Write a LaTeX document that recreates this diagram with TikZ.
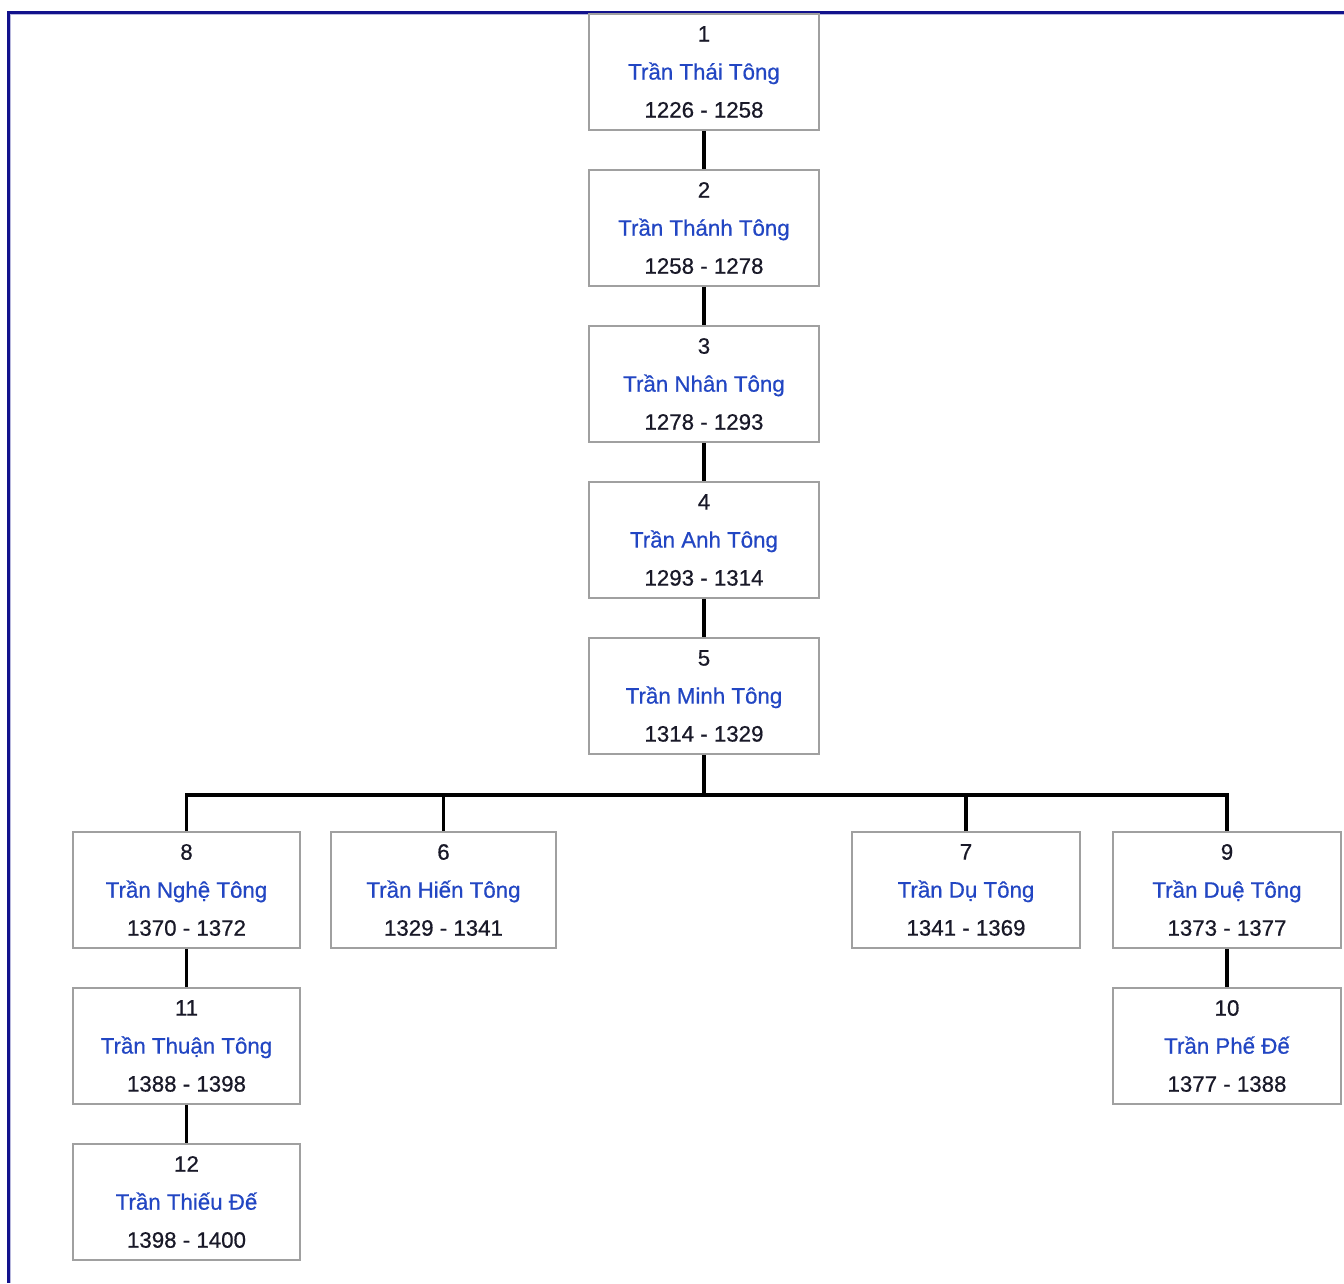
\documentclass[tikz,border=0pt]{standalone}
\usepackage{fontspec}
\setmainfont{Liberation Sans}[FakeBold=0.6]
\definecolor{nameblue}{RGB}{34,70,195}
\definecolor{boxgray}{RGB}{160,160,160}
\definecolor{framenavy}{RGB}{18,18,140}
\definecolor{numcol}{RGB}{25,25,40}
\begin{document}
\begin{tikzpicture}[x=1pt,y=-1pt,
  kbox/.style={draw=boxgray, line width=1.8pt, fill=white, minimum height=116pt,
    inner sep=0pt, align=center, text=numcol, font=\fontsize{22.3}{38}\selectfont},
  link/.style={line width=3.3pt, black}]
\useasboundingbox (0,0) rectangle (1344,1283);
\fill[white] (0,0) rectangle (1344,1283);
% frame
\draw[framenavy, line width=2.6pt] (1344,12.5) -- (8.5,12.5) -- (8.5,1283);
\draw[framenavy!30, line width=1pt] (1344,14.5) -- (10.5,14.5) -- (10.5,1283);
% boxes
\node[kbox, minimum width=230pt] (n1) at (704,72) {1\\\textcolor{nameblue}{Trần Thái Tông}\\1226 - 1258};
\node[kbox, minimum width=230pt] (n2) at (704,228) {2\\\textcolor{nameblue}{Trần Thánh Tông}\\1258 - 1278};
\node[kbox, minimum width=230pt] (n3) at (704,384) {3\\\textcolor{nameblue}{Trần Nhân Tông}\\1278 - 1293};
\node[kbox, minimum width=230pt] (n4) at (704,540) {4\\\textcolor{nameblue}{Trần Anh Tông}\\1293 - 1314};
\node[kbox, minimum width=230pt] (n5) at (704,696) {5\\\textcolor{nameblue}{Trần Minh Tông}\\1314 - 1329};
\node[kbox, minimum width=227pt] (n8) at (186.5,890) {8\\\textcolor{nameblue}{Trần Nghệ Tông}\\1370 - 1372};
\node[kbox, minimum width=225pt] (n6) at (443.5,890) {6\\\textcolor{nameblue}{Trần Hiến Tông}\\1329 - 1341};
\node[kbox, minimum width=228pt] (n7) at (966,890) {7\\\textcolor{nameblue}{Trần Dụ Tông}\\1341 - 1369};
\node[kbox, minimum width=228pt] (n9) at (1227,890) {9\\\textcolor{nameblue}{Trần Duệ Tông}\\1373 - 1377};
\node[kbox, minimum width=227pt] (n11) at (186.5,1046) {11\\\textcolor{nameblue}{Trần Thuận Tông}\\1388 - 1398};
\node[kbox, minimum width=227pt] (n12) at (186.5,1202) {12\\\textcolor{nameblue}{Trần Thiếu Đế}\\1398 - 1400};
\node[kbox, minimum width=228pt] (n10) at (1227,1046) {10\\\textcolor{nameblue}{Trần Phế Đế}\\1377 - 1388};
% connectors
\coordinate (bus) at (704,795);
\draw[link] (n1.south) -- (n2.north);
\draw[link] (n2.south) -- (n3.north);
\draw[link] (n3.south) -- (n4.north);
\draw[link] (n4.south) -- (n5.north);
\draw[link] (n5.south) -- (bus);
\draw[link] (n8.north) |- (bus) -| (n9.north);
\draw[link] (n6.north) -- (n6.north |- bus);
\draw[link] (n7.north) -- (n7.north |- bus);
\draw[link] (n8.south) -- (n11.north);
\draw[link] (n11.south) -- (n12.north);
\draw[link] (n9.south) -- (n10.north);
\end{tikzpicture}
\end{document}
